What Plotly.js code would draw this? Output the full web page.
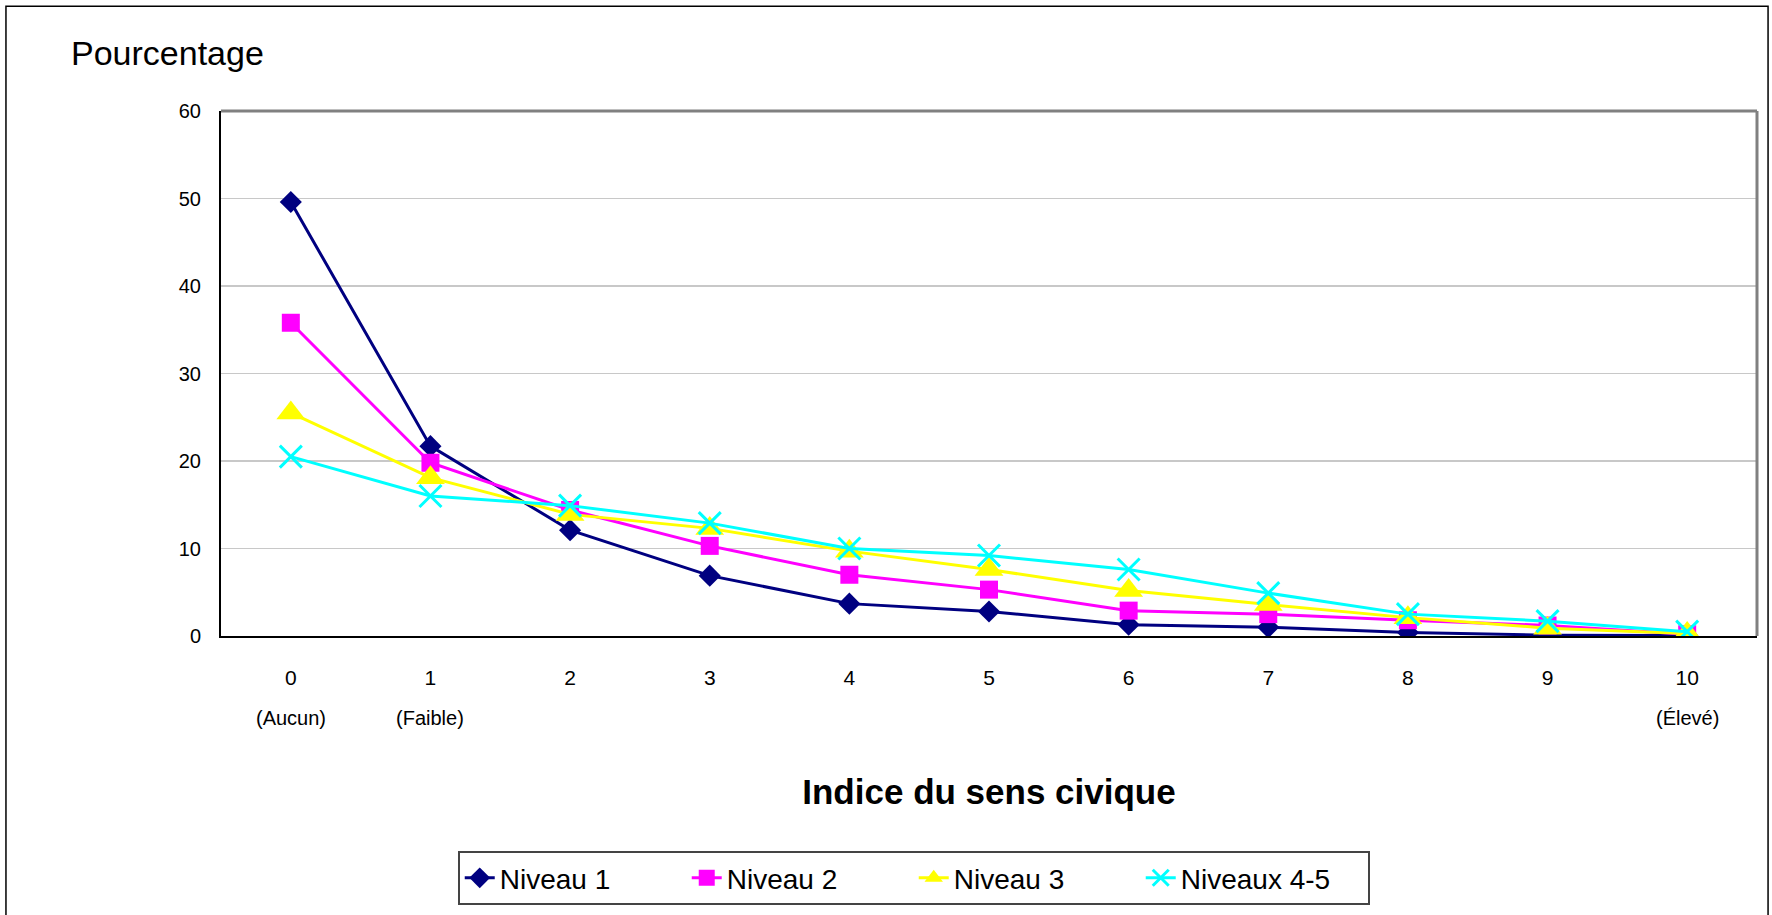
<!DOCTYPE html>
<html>
<head>
<meta charset="utf-8">
<script src="https://cdn.plot.ly/plotly-3.0.1.min.js"></script>
<style>html,body{margin:0;padding:0;background:#fff;}#chart{width:1772px;height:915px;}</style>
</head>
<body>
<div id="chart"></div>
<script>
// ---- data ----
const categories = ['0','1','2','3','4','5','6','7','8','9','10'];
const subLabels = {'0':'(Aucun)', '1':'(Faible)', '10':'(Élevé)'};
const seriesNames = ['Niveau 1','Niveau 2','Niveau 3','Niveaux 4-5'];
const niveau1   = [49.6, 21.7, 12.1, 6.9, 3.7, 2.8, 1.3, 1.0, 0.4, 0.1, 0.05];
const niveau2   = [35.8, 19.8, 14.4, 10.3, 7.0, 5.3, 2.9, 2.5, 1.8, 1.2, 0.2];
const niveau3   = [25.5, 18.1, 13.9, 12.3, 9.7, 7.6, 5.2, 3.6, 2.1, 0.9, 0.3];
const niveaux45 = [20.5, 16.0, 14.9, 12.9, 10.0, 9.2, 7.6, 4.9, 2.5, 1.7, 0.5];
const yTitle = 'Pourcentage';
const xTitle = 'Indice du sens civique';

// ---- styles ----
const FONT = '"Liberation Sans", Arial, sans-serif';
const styles = [
  {color:'#000080', symbol:'diamond', size:17},
  {color:'#FF00FF', symbol:'square', size:18},
  {color:'#FFFF00', symbol:'triangle-up', size:25},
  {color:'#00FFFF', symbol:'x-thin', size:22}
];
const values = [niveau1, niveau2, niveau3, niveaux45];

const traces = values.map((v, i) => {
  const s = styles[i];
  const m = {symbol: s.symbol, size: s.size, color: s.color};
  if (s.symbol === 'x-thin') m.line = {color: s.color, width: 3};
  return {
    type: 'scatter', mode: 'lines+markers', name: seriesNames[i],
    x: categories, y: v,
    line: {color: s.color, width: 3},
    marker: m
  };
});

const annotations = Object.keys(subLabels).map(k => ({
  xref: 'x', yref: 'paper', x: k, y: -0.157, yanchor: 'middle', xanchor: 'center',
  text: subLabels[k], showarrow: false, font: {family: FONT, size: 20, color: '#000'}
}));
annotations.push({
  xref: 'paper', yref: 'paper', x: -0.099, y: 1.11, xanchor: 'left', yanchor: 'middle',
  text: yTitle, showarrow: false, font: {family: FONT, size: 34, color: '#000'}
});

const layout = {
  width: 1772, height: 915,
  margin: {l: 221, r: 15, t: 111, b: 278},
  paper_bgcolor: '#fff', plot_bgcolor: '#fff',
  font: {family: FONT, color: '#000'},
  showlegend: true,
  legend: {
    orientation: 'h', x: 0.451, xanchor: 'center', y: -0.407, yanchor: 'top',
    font: {family: FONT, size: 28, color: '#000'},
    bordercolor: '#444', borderwidth: 2, bgcolor: '#fff',
    entrywidth: 182, entrywidthmode: 'pixels', itemsizing: 'trace'
  },
  xaxis: {
    type: 'category', range: [-0.5, 10.5],
    showline: true, linecolor: '#000', linewidth: 2,
    showgrid: false, zeroline: false,
    ticks: '', ticklabelstandoff: 22,
    tickfont: {family: FONT, size: 21, color: '#000'},
    title: {text: xTitle, standoff: 91, font: {family: FONT, size: 35, color: '#000', weight: 'bold'}}
  },
  yaxis: {
    range: [0, 60], dtick: 10,
    showline: true, linecolor: '#000', linewidth: 2,
    showgrid: true, gridcolor: '#c8c8c8', gridwidth: 1.5,
    zeroline: false, ticks: '', ticklabelstandoff: 14,
    tickfont: {family: FONT, size: 20, color: '#000'}
  },
  annotations: annotations,
  shapes: [
    {type: 'line', xref: 'paper', yref: 'paper', x0: 0, x1: 1, y0: 1, y1: 1, line: {color: '#808080', width: 3}},
    {type: 'line', xref: 'paper', yref: 'paper', x0: 1, x1: 1, y0: 0, y1: 1, line: {color: '#808080', width: 3}},
    {type: 'rect', xref: 'paper', yref: 'paper', x0: -0.140, x1: 1.0072, y0: -0.56, y1: 1.1996, line: {color: '#000', width: 1.5}}
  ]
};

Plotly.newPlot('chart', traces, layout, {displayModeBar: false, staticPlot: true});
</script>
</body>
</html>
